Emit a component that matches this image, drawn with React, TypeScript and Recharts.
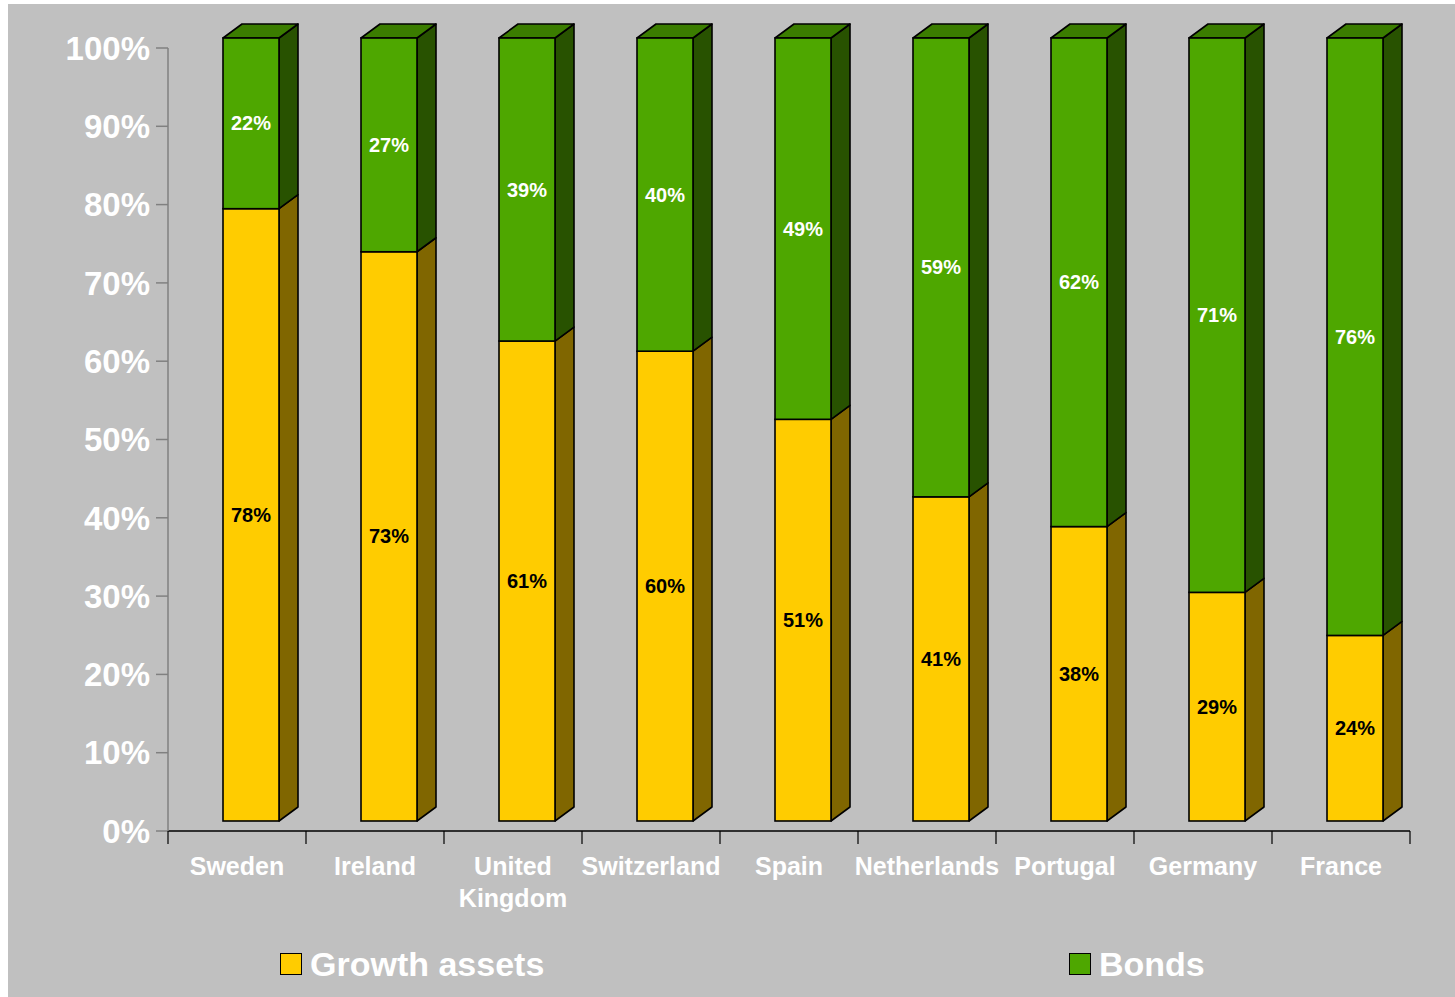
import React from 'react';
import { BarChart, Bar, XAxis, YAxis, LabelList } from 'recharts';

const categories = ['Sweden', 'Ireland', 'United Kingdom', 'Switzerland', 'Spain', 'Netherlands', 'Portugal', 'Germany', 'France'];
const growthValues = [78.2, 72.7, 61.3, 60.0, 51.3, 41.4, 37.6, 29.2, 23.7];
const bondValues = [21.8, 27.3, 38.7, 40.0, 48.7, 58.6, 62.4, 70.8, 76.3];
const yTicks = [0, 10, 20, 30, 40, 50, 60, 70, 80, 90, 100];
const seriesNames = ['Growth assets', 'Bonds'];

const data = categories.map((name, i) => ({ name, growth: growthValues[i], bonds: bondValues[i] }));

const FONT = '"Liberation Sans", Arial, Helvetica, sans-serif';
const SHIFT_X = 14;
const SHIFT_Y = -10;
const DX = 19;
const DY = -14;

const COLORS = {
  growth: { front: '#FFCC00', side: '#806600', top: '#BF9900' },
  bonds: { front: '#4EA700', side: '#285200', top: '#3B7D00' },
};

const make3D = (c: { front: string; side: string; top: string }, drawTop: boolean) => (props: any) => {
  const x = Number(props.x) + SHIFT_X;
  const y = Number(props.y) + SHIFT_Y;
  const w = Number(props.width);
  const h = Number(props.height);
  if (!isFinite(x) || !isFinite(y) || !isFinite(w) || !isFinite(h)) return null;
  const sw = 1.6;
  return (
    <g>
      <polygon
        points={`${x + w},${y + h} ${x + w + DX},${y + h + DY} ${x + w + DX},${y + DY} ${x + w},${y}`}
        fill={c.side}
        stroke="#000"
        strokeWidth={sw}
        strokeLinejoin="round"
      />
      {drawTop && (
        <polygon
          points={`${x},${y} ${x + DX},${y + DY} ${x + w + DX},${y + DY} ${x + w},${y}`}
          fill={c.top}
          stroke="#000"
          strokeWidth={sw}
          strokeLinejoin="round"
        />
      )}
      <rect x={x} y={y} width={w} height={h} fill={c.front} stroke="#000" strokeWidth={sw} />
    </g>
  );
};

const makeLabel = (color: string) => (props: any) => {
  const x = Number(props.x);
  const y = Number(props.y);
  const w = Number(props.width);
  const h = Number(props.height);
  const v = Number(props.value);
  return (
    <text
      x={x + SHIFT_X + w / 2}
      y={y + SHIFT_Y + h / 2}
      textAnchor="middle"
      dominantBaseline="central"
      fill={color}
      fontFamily={FONT}
      fontWeight="bold"
      fontSize={20}
    >
      {`${Math.round(v)}%`}
    </text>
  );
};

const XTick = (props: any) => {
  const { x, y, payload, index } = props;
  const half = payload && typeof payload.offset === 'number' && payload.offset > 0 ? payload.offset : 69;
  const lines = String(payload.value).split(' ');
  return (
    <g>
      <line x1={x - half} x2={x - half} y1={y} y2={y + 13} stroke="#000" strokeWidth={1.2} />
      {index === categories.length - 1 && (
        <line x1={x + half} x2={x + half} y1={y} y2={y + 13} stroke="#000" strokeWidth={1.2} />
      )}
      <text x={x} y={y + 35} textAnchor="middle" fill="#FFFFFF" fontFamily={FONT} fontWeight="bold" fontSize={25}>
        {lines.map((l, i) => (
          <tspan key={i} x={x} dy={i === 0 ? '0.35em' : 32}>
            {l}
          </tspan>
        ))}
      </text>
    </g>
  );
};

const legendColors = [COLORS.growth.front, COLORS.bonds.front];
const legendLeft = [272, 1061];

export default function App() {
  return (
    <div
      style={{
        position: 'absolute',
        left: 8,
        top: 4,
        width: 1447,
        height: 993,
        background: '#C0C0C0',
        overflow: 'hidden',
      }}
    >
      <BarChart
        width={1447}
        height={993}
        data={data}
        margin={{ top: 44, right: 45, left: 0, bottom: 66 }}
      >
        <XAxis
          dataKey="name"
          interval={0}
          height={100}
          tickSize={0}
          tickMargin={0}
          tickLine={false}
          axisLine={{ stroke: '#000', strokeWidth: 1.5 }}
          tick={<XTick />}
        />
        <YAxis
          width={160}
          domain={[0, 100]}
          ticks={yTicks}
          interval={0}
          tickSize={12}
          tickMargin={6}
          axisLine={{ stroke: '#808080', strokeWidth: 1.5 }}
          tickLine={{ stroke: '#808080', strokeWidth: 1.5 }}
          tickFormatter={(v: number) => `${v}%`}
          tick={{ fill: '#FFFFFF', fontFamily: FONT, fontWeight: 'bold', fontSize: 33 }}
        />
        <Bar
          dataKey="growth"
          name={seriesNames[0]}
          stackId="a"
          barSize={56}
          isAnimationActive={false}
          shape={make3D(COLORS.growth, false)}
        >
          <LabelList dataKey="growth" content={makeLabel('#000000')} />
        </Bar>
        <Bar
          dataKey="bonds"
          name={seriesNames[1]}
          stackId="a"
          barSize={56}
          isAnimationActive={false}
          shape={make3D(COLORS.bonds, true)}
        >
          <LabelList dataKey="bonds" content={makeLabel('#FFFFFF')} />
        </Bar>
      </BarChart>
      {seriesNames.map((n, i) => (
        <div
          key={n}
          style={{
            position: 'absolute',
            left: legendLeft[i],
            top: 940,
            height: 40,
            display: 'flex',
            alignItems: 'center',
          }}
        >
          <div
            style={{
              width: 20,
              height: 20,
              background: legendColors[i],
              border: '1.5px solid #000',
            }}
          />
          <span
            style={{
              marginLeft: 8,
              color: '#FFFFFF',
              fontFamily: FONT,
              fontWeight: 'bold',
              fontSize: 34,
              lineHeight: '40px',
              whiteSpace: 'nowrap',
            }}
          >
            {n}
          </span>
        </div>
      ))}
    </div>
  );
}
